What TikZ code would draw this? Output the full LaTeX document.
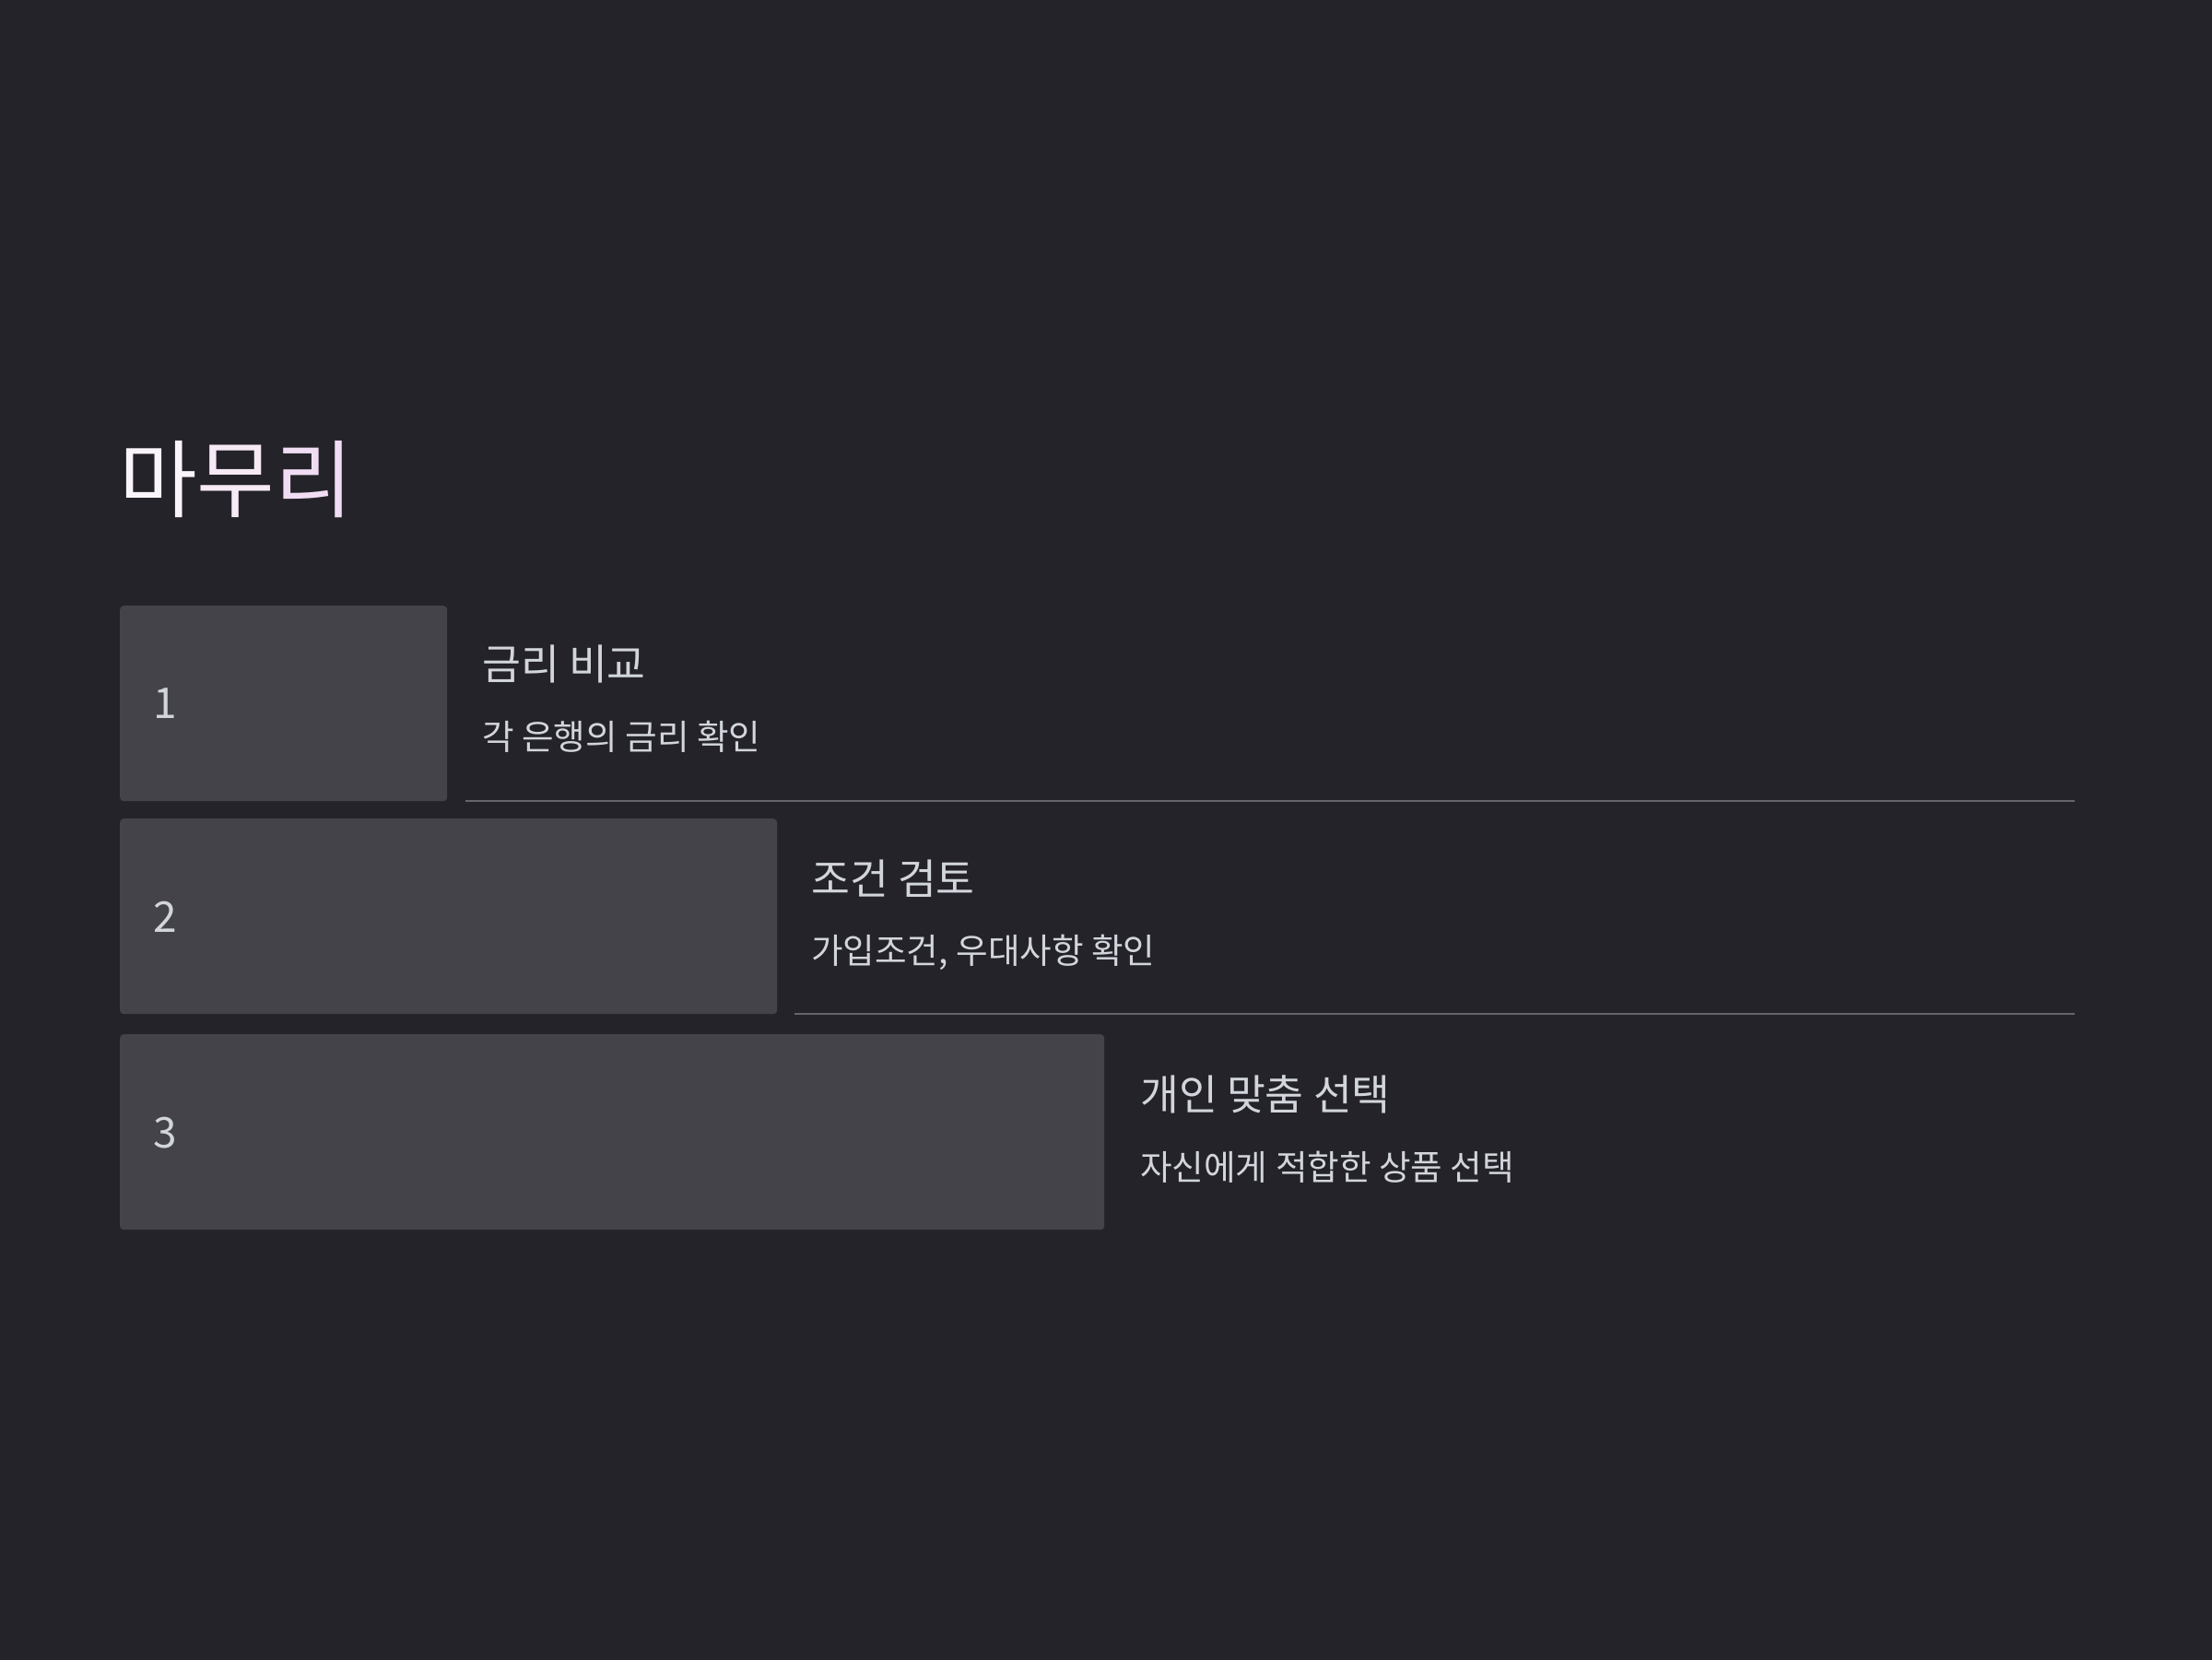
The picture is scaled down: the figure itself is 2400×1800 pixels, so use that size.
\documentclass[tikz,border=0pt]{standalone}
\usepackage{fontspec}
\setmainfont{Noto Sans CJK KR}
\usetikzlibrary{positioning}
\definecolor{bgdark}{HTML}{242329}
\definecolor{boxgray}{HTML}{444349}
\definecolor{txtgray}{HTML}{D2D5DC}
\definecolor{linegray}{HTML}{66656B}
\definecolor{titleA}{HTML}{F8F4F9}
\definecolor{titleB}{HTML}{F5EAF6}
\definecolor{titleC}{HTML}{F1DDF3}
\begin{document}
\begin{tikzpicture}[x=1pt,y=-1pt,
    stepbox/.style={fill=boxgray, rounded corners=4pt, minimum height=212pt, inner sep=0pt, anchor=north west},
    num/.style={text=txtgray, font=\fontsize{46}{50}\selectfont, inner sep=0pt, anchor=west},
    head/.style={text=txtgray, font=\fontsize{45.5}{50}\selectfont, inner sep=0pt, anchor=west},
    sub/.style={text=txtgray, font=\fontsize{37.6}{42}\selectfont, inner sep=0pt, anchor=west},
    sep/.style={draw=linegray, line width=2pt}]
    \useasboundingbox (0,0) rectangle (2400,1800);
    \fill[bgdark] (-10,-10) rectangle (2410,1810);
    % title
    \node[inner sep=0pt, anchor=west, font=\fontsize{92}{98}\selectfont] (title) at (129,520)
        {{\color{titleA}마}{\color{titleB}무}{\color{titleC}리}};
    % steps
    \node[stepbox, minimum width=355pt] (b1) at (130,657) {};
    \node[stepbox, minimum width=713pt] (b2) at (130,888) {};
    \node[stepbox, minimum width=1068pt] (b3) at (130,1122) {};
    \node[num] (n1) at (166,763) {1};
    \node[num] (n2) at (166,995) {2};
    \node[num] (n3) at (166,1229) {3};
    \node[head] (h1) at (523,720) {금리 비교};
    \node[sub] (s1) at (523,799) {각 은행의 금리 확인};
    \node[head] (h2) at (880,953) {조건 검토};
    \node[sub] (s2) at (880,1033) {가입조건, 우대사항 확인};
    \node[head] (h3) at (1237,1187) {개인 맞춤 선택};
    \node[sub] (s3) at (1237,1266) {자신에게 적합한 상품 선택};
    % separators
    \coordinate (rend) at (2251,0);
    \draw[sep] ([xshift=20pt]b1.south east) -- (b1.south east -| rend);
    \draw[sep] ([xshift=19pt]b2.south east) -- (b2.south east -| rend);
\end{tikzpicture}
\end{document}
